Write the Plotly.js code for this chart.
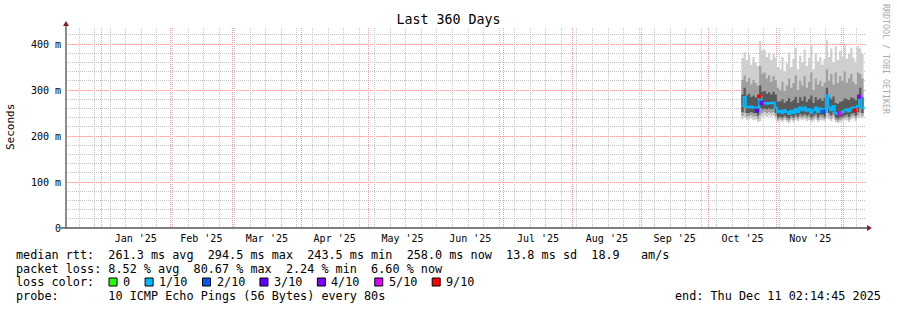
<!DOCTYPE html>
<html><head><meta charset="utf-8">
<script src="https://cdn.plot.ly/plotly-3.0.1.min.js"></script>
<style>html,body{margin:0;padding:0;background:#fff;} #chart{width:897px;height:310px;}
#chart path[class*="grid"] { shape-rendering: crispEdges !important; }
</style>
</head><body><div id="chart"></div>
<script>
// ---------- DATA ----------
const dates = [
 '2025-10-16','2025-10-17','2025-10-18','2025-10-19','2025-10-20','2025-10-21','2025-10-22','2025-10-23',
 '2025-10-24','2025-10-25','2025-10-26','2025-10-27','2025-10-28','2025-10-29','2025-10-30','2025-10-31',
 '2025-11-01','2025-11-02','2025-11-03','2025-11-04','2025-11-05','2025-11-06','2025-11-07','2025-11-08',
 '2025-11-09','2025-11-10','2025-11-11','2025-11-12','2025-11-13','2025-11-14','2025-11-15','2025-11-16',
 '2025-11-17','2025-11-18','2025-11-19','2025-11-20','2025-11-21','2025-11-22','2025-11-23','2025-11-24',
 '2025-11-25','2025-11-26','2025-11-27','2025-11-28','2025-11-29','2025-11-30','2025-12-01','2025-12-02',
 '2025-12-03','2025-12-04','2025-12-05','2025-12-06','2025-12-07','2025-12-08','2025-12-09','2025-12-10'];
const medianRtt = [
 265,285,263,262,264,262,262,255,
 286,272,272,270,272,271,273,262,
 252,255,250,256,252,248,255,250,
 258,252,262,256,262,255,258,250,
 256,262,252,260,258,253,288,262,
 256,265,250,248,249,252,256,258,
 254,260,262,256,265,285,262,258];
const smokeMax = [
 370,382,365,376,355,372,360,352,
 407,386,388,372,380,365,378,370,
 350,345,372,340,358,382,350,368,
 392,345,375,360,388,352,370,398,
 345,380,362,372,355,368,408,372,
 390,360,395,365,385,372,398,368,
 378,392,370,362,395,390,378,350];
const smokeHi2 = [
 322,332,318,326,312,322,315,310,
 352,336,338,325,332,318,330,322,
 305,300,318,298,310,325,305,315,
 332,300,320,310,330,305,318,338,
 300,325,312,320,308,316,345,320,
 335,312,338,315,330,320,340,316,
 325,335,318,312,338,335,325,305];
const smokeHi1 = [
 290,305,288,292,285,288,284,280,
 310,296,298,292,295,290,296,290,
 275,275,280,272,276,282,274,278,
 285,272,284,276,286,274,280,288,
 272,284,278,282,276,282,305,284,
 280,286,272,270,274,276,282,280,
 278,284,282,278,290,305,284,278];
const smokeLo = [
 252,262,250,250,252,250,250,244,
 262,258,260,258,260,258,260,250,
 240,242,240,244,240,238,244,240,
 246,242,248,244,248,244,246,240,
 244,248,240,246,246,242,262,250,
 245,252,240,238,240,242,244,246,
 242,248,250,244,252,262,250,246];
const smokeLo2 = [
 244,250,242,243,245,242,243,237,
 246,250,252,250,252,250,252,243,
 235,237,235,239,235,233,239,235,
 240,237,242,239,242,238,240,235,
 238,242,235,240,240,237,250,243,
 238,245,235,233,235,237,239,240,
 236,242,244,238,245,250,244,240];
const smokeMin = [
 236,240,235,236,238,234,236,230,
 232,242,244,242,244,242,244,236,
 230,232,230,234,230,228,234,230,
 234,232,236,234,236,232,234,230,
 232,236,230,234,234,232,238,236,
 232,238,230,228,230,232,234,234,
 230,236,238,232,238,240,238,234];
const lossPct = [
 8,6,9,7,8,6,8,30,
 80.67,35,8,7,9,6,8,9,
 7,8,6,9,8,7,6,8,
 9,7,8,6,9,8,7,8,
 6,9,8,7,8,18,7,8,
 9,7,8,6,45,8,9,7,
 8,6,9,75,7,35,8,6.6];

const monthStarts = ['2025-01-01','2025-02-01','2025-03-01','2025-04-01','2025-05-01','2025-06-01',
  '2025-07-01','2025-08-01','2025-09-01','2025-10-01','2025-11-01','2025-12-01'];
const monthLabels = ["Jan '25","Feb '25","Mar '25","Apr '25","May '25","Jun '25",
  "Jul '25","Aug '25","Sep '25","Oct '25","Nov '25"];
const weekStart = '2024-12-22';
const yTickVals = [0,100,200,300,400];
const yTickText = ['0','100 m','200 m','300 m','400 m'];
const lossLabels = ['0','1/10','2/10','3/10','4/10','5/10','9/10'];
const lossColors = ['#26ff00','#00b8ff','#0059ff','#5e00ff','#7e00ff','#dd00ff','#ff0000'];
const legendRtt = 'median rtt:  261.3 ms avg  294.5 ms max  243.5 ms min  258.0 ms now  13.8 ms sd  18.9   am/s';
const legendLoss = 'packet loss: 8.52 % avg  80.67 % max  2.24 % min  6.60 % now';
const legendLossHead = 'loss color:';
const legendProbe = 'probe:       10 ICMP Echo Pings (56 Bytes) every 80s';
const legendEnd = 'end: Thu Dec 11 02:14:45 2025';
const titleText = 'Last 360 Days';
const yTitle = 'Seconds';
const watermark = 'RRDTOOL / TOBI OETIKER';
const rangeStart = '2024-12-16 02:14:45', rangeEnd = '2025-12-11 02:14:45';

// ---------- LAYOUT HELPERS ----------
const W = 897, H = 310, L = 66, R = 31, T = 28, B = 82;
const PW = W - L - R, PH = H - T - B;
const px = x => (x - L) / PW;
const py = y => (H - B - y) / PH;
const MONO = 'DejaVu Sans Mono';
const nb = s => s.replace(/ /g, '\u00a0');
const lossBin = p => p === 0 ? 0 : p <= 10 ? 1 : p <= 20 ? 2 : p <= 30 ? 3 : p <= 40 ? 4 : p <= 60 ? 5 : 6;

const ms = d => new Date(d + 'T00:00:00Z').getTime();
const monthMids = monthLabels.map((_, i) => new Date((ms(monthStarts[i]) + ms(monthStarts[i+1])) / 2).toISOString());

// ---------- TRACES ----------
const band = (lo, hi, color) => [
  {x: dates, y: lo, mode: 'lines', line: {width: 0, shape: 'hv'}, hoverinfo: 'skip', showlegend: false},
  {x: dates, y: hi, mode: 'lines', line: {width: 0, shape: 'hv'}, fill: 'tonexty', fillcolor: color, hoverinfo: 'skip', showlegend: false}
];
const traces = [
  ...band(smokeMin, smokeMax, '#cfcfcf'),
  ...band(smokeLo2, smokeHi2, '#a0a0a0'),
  ...band(smokeLo, smokeHi1, '#595959'),
  {x: dates, y: medianRtt, mode: 'lines', line: {width: 2, shape: 'hv', color: lossColors[1]}, hoverinfo: 'skip', showlegend: false},
];
const hx = [], hy = [], hc = [];
lossPct.forEach((p, i) => { const b = lossBin(p); if (b !== 1) { hx.push(dates[i]); hy.push(medianRtt[i]); hc.push(lossColors[b]); } });
traces.push({x: hx, y: hy, mode: 'markers', marker: {symbol: 'square', size: 4, color: hc}, hoverinfo: 'skip', showlegend: false});
traces.push({x: [monthMids[0]], y: [0], xaxis: 'x2', mode: 'markers', marker: {opacity: 0}, hoverinfo: 'skip', showlegend: false});
traces.push({x: [monthMids[0]], y: [0], xaxis: 'x3', mode: 'markers', marker: {opacity: 0}, hoverinfo: 'skip', showlegend: false});

// ---------- ANNOTATIONS & SHAPES ----------
const FS = 11.8, CW = 0.602 * FS;
const ann = (text, x, y, extra) => Object.assign({text: nb(text), xref: 'paper', yref: 'paper', x: px(x), y: py(y),
  xanchor: 'left', yanchor: 'middle', showarrow: false, borderpad: 0, borderwidth: 0,
  font: {family: MONO, size: FS, color: '#000'}}, extra || {});
const annotations = [
  ann(legendRtt, 16, 255),
  ann(legendLoss, 16, 268.5),
  ann(legendLossHead, 16, 282),
  ann(legendProbe, 16, 296),
  ann(legendEnd, 881, 296, {xanchor: 'right'}),
  ann(yTitle, 10, 127, {xanchor: 'center', textangle: -90, font: {family: MONO, size: 11, color: '#000'}}),
  ann(watermark, 886, 59, {xanchor: 'center', textangle: 90, font: {family: MONO, size: 8.3, color: '#aaaaaa'}}),
];
const shapes = [];
let bx = 109;
lossLabels.forEach((lab, i) => {
  shapes.push({type: 'rect', xref: 'paper', yref: 'paper', x0: px(bx), x1: px(bx + 8), y0: py(286), y1: py(278),
    fillcolor: lossColors[i], line: {color: '#000', width: 1}});
  annotations.push(ann(lab, bx + 14, 282));
  bx = bx + 14 + lab.length * CW + 15;
});
// axes lines + arrows
shapes.push({type: 'line', xref: 'paper', yref: 'paper', x0: px(61), x1: px(867), y0: 0, y1: 0, line: {color: '#000', width: 1}});
shapes.push({type: 'line', xref: 'paper', yref: 'paper', x0: 0, x1: 0, y0: 0, y1: py(24), line: {color: '#666', width: 1.5}});
shapes.push({type: 'path', xref: 'paper', yref: 'paper',
  path: `M${px(867)},${py(225)} L${px(872)},${py(228)} L${px(867)},${py(231)} Z`, fillcolor: '#7f2222', line: {width: 0}});
shapes.push({type: 'path', xref: 'paper', yref: 'paper',
  path: `M${px(63)},${py(26)} L${px(66)},${py(21)} L${px(69)},${py(26)} Z`, fillcolor: '#7f2222', line: {width: 0}});

const GREY = '#c4c4c4', RED = '#f39a9a', DOT = '1px,1px';
const layout = {
  width: W, height: H, margin: {l: L, r: R, t: T, b: B, pad: 0},
  paper_bgcolor: '#fff', plot_bgcolor: '#fff', showlegend: false, hovermode: false,
  title: {text: titleText, xref: 'container', yref: 'container', x: 0.5, y: 1 - 19 / H, xanchor: 'center', yanchor: 'middle',
    font: {family: MONO, size: 13.3, color: '#000'}},
  xaxis: {type: 'date', range: [rangeStart, rangeEnd], tickmode: 'linear', tick0: monthStarts[0], dtick: 'M1', showticklabels: false,
    showgrid: true, gridcolor: RED, griddash: DOT, gridwidth: 1, zeroline: false, showline: false, ticks: ''},
  xaxis3: {type: 'date', overlaying: 'x', side: 'bottom', range: [rangeStart, rangeEnd], tickmode: 'linear',
    tick0: weekStart, dtick: 7 * 86400000, showticklabels: false,
    showgrid: true, gridcolor: GREY, griddash: DOT, gridwidth: 1, zeroline: false, showline: false, ticks: ''},
  xaxis2: {type: 'date', overlaying: 'x', side: 'bottom', range: [rangeStart, rangeEnd], tickmode: 'array',
    tickvals: monthMids, ticktext: monthLabels, showgrid: false, zeroline: false, showline: false, ticks: '',
    tickfont: {family: MONO, size: 10, color: '#000'}, ticklabelstandoff: 3},
  yaxis: {range: [0, 200 / 0.46], tickmode: 'array', tickvals: yTickVals, ticktext: yTickText,
    showgrid: true, gridcolor: RED, griddash: DOT, gridwidth: 1, zeroline: false, showline: false, ticks: '',
    tickfont: {family: MONO, size: 10, color: '#000'}, ticklabelstandoff: 4,
    minor: {tickmode: 'linear', tick0: 0, dtick: 20, showgrid: true, gridcolor: GREY, griddash: DOT, gridwidth: 1, ticks: ''}},
  annotations, shapes
};
Plotly.newPlot('chart', traces, layout, {staticPlot: true, displayModeBar: false});
</script></body></html>
